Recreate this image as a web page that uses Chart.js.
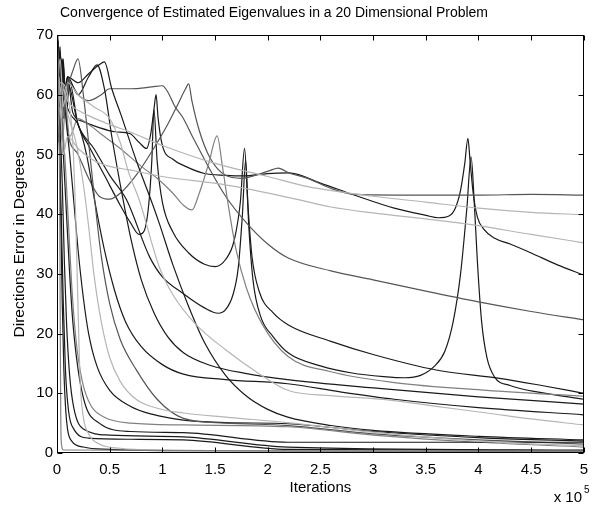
<!DOCTYPE html>
<html>
<head>
<meta charset="utf-8">
<script src="https://cdn.jsdelivr.net/npm/chart.js@4.4.1/dist/chart.umd.min.js"></script>
<style>
  html, body { margin: 0; padding: 0; background: #fff; }
</style>
</head>
<body>
<canvas id="chart" width="596" height="505"></canvas>
<script>
// iterations in units of 1e5, error in degrees
const xTicks = [0, 0.5, 1, 1.5, 2, 2.5, 3, 3.5, 4, 4.5, 5];
const yTicks = [0, 10, 20, 30, 40, 50, 60, 70];

// upper curves with spikes
const peak39a = [[0,60],[0.01,69],[0.02,62],[0.03,68],[0.045,60],[0.06,66],[0.08,58],[0.1,63],[0.15,57],[0.25,55.5],[0.4,54.5],[0.55,53.8],[0.69,53.5],[0.78,52],[0.85,51],[0.89,53.5],[0.92,57.5],[0.94,60],[0.96,56],[1.0,51.5],[1.1,49.2],[1.22,48],[1.4,46.8],[1.6,46.5],[1.77,46.4],[2.0,46.8],[2.2,46.9],[2.5,45.2],[2.82,43.2],[3.2,41],[3.5,39.8],[3.62,39.4],[3.72,39.7],[3.78,41],[3.83,44],[3.87,48.5],[3.9,52.7],[3.92,49],[3.95,43.5],[3.99,39.5],[4.05,37.5],[4.15,36],[4.3,35],[4.5,33.5],[4.75,31.5],[5,29.8]];
const peak18a = [[0,63],[0.01,52],[0.02,67],[0.04,56],[0.06,65],[0.09,57],[0.12,62],[0.2,55],[0.3,51.5],[0.45,46.5],[0.6,41.5],[0.7,38.5],[0.78,36.6],[0.83,37.3],[0.87,41.5],[0.9,49],[0.92,57.5],[0.95,49],[1.0,42],[1.1,37],[1.25,33.5],[1.4,31.6],[1.5,31.2],[1.6,32.4],[1.68,35.5],[1.74,42],[1.78,51],[1.81,42],[1.85,33],[1.92,27],[2.05,23.5],[2.2,21.4],[2.6,18.7],[3.0,16.5],[3.6,13.9],[4.2,12.5],[4.6,11.3],[5,10]];
const peak39b = [[0,59],[0.01,66],[0.03,54],[0.05,64],[0.07,56],[0.1,62],[0.2,55],[0.35,51],[0.5,46.5],[0.66,42.4],[0.88,32.8],[1.0,29.5],[1.19,26.8],[1.4,24.3],[1.53,23.4],[1.6,24],[1.67,26.5],[1.72,31],[1.76,40],[1.79,49],[1.82,38],[1.86,29],[1.93,23],[2.05,19.5],[2.2,16.7],[2.5,14.6],[2.8,13.4],[3.1,12.8],[3.3,12.6],[3.45,13],[3.58,14.5],[3.68,17],[3.76,22],[3.83,30],[3.89,41],[3.93,49.6],[3.96,42],[3.99,32],[4.03,22],[4.08,16],[4.15,12.8],[4.3,11.3],[4.6,10.1],[5,9]];
const peak12 = [[0,57],[0.02,64],[0.04,55],[0.07,60],[0.1,54],[0.2,50],[0.3,46],[0.4,43],[0.5,42.5],[0.6,43.5],[0.75,46.5],[0.9,50.5],[1.05,55],[1.15,58.5],[1.22,61],[1.25,61.8],[1.28,59],[1.35,54],[1.45,49.5],[1.6,46.5],[1.75,46],[1.9,46.6],[2.02,47.3],[2.1,47.7],[2.2,46.9],[2.38,46],[2.6,44.3],[2.82,43.3],[3.2,43.2],[4,43.2],[4.5,43.3],[5,43.2]];
const plateau = [[0,61],[0.02,55],[0.05,64],[0.08,58],[0.12,62],[0.2,60],[0.3,59],[0.42,60],[0.5,61],[0.7,61],[0.9,61.3],[1.0,61.5],[1.05,60.5],[1.12,58],[1.19,56.3],[1.3,52.5],[1.45,47.5],[1.6,43],[1.8,38.5],[2.0,35],[2.19,32.7],[2.6,30.5],[3.0,29],[3.5,27.1],[4.0,25.3],[4.5,23.7],[5,22.3]];
const peak15 = [[0,54],[0.02,62],[0.05,52],[0.08,58],[0.12,53],[0.2,56],[0.3,55],[0.45,53],[0.6,51],[0.8,48],[0.95,46],[1.1,43.5],[1.2,41.5],[1.28,40.7],[1.35,43.5],[1.44,48.5],[1.52,53.1],[1.57,48],[1.63,41],[1.7,34],[1.8,27.5],[1.95,21.5],[2.19,16.2],[2.6,13.6],[3.2,11.8],[4.08,10.5],[5,9.5]];
const slowA = [[0,55],[0.02,63],[0.04,56],[0.06,61],[0.1,59],[0.15,58],[0.3,56.5],[0.5,55],[0.69,53.8],[1.0,51.5],[1.5,48.5],[2.0,46.3],[2.38,44.6],[3.0,43],[3.5,42],[4.0,41],[4.5,40.3],[5,39.9]];
const slowB = [[0,52],[0.03,58],[0.06,50],[0.1,53],[0.2,51],[0.35,49],[0.5,48],[0.69,47.4],[1.0,46.3],[1.6,44.9],[2.3,42.4],[2.6,41.2],[3.0,40.2],[3.5,39.2],[3.95,38.2],[4.5,36.6],[5,35.2]];

// decaying curves
const decay1 = [[0,62],[0.01,69],[0.03,58],[0.05,66],[0.07,60],[0.1,63],[0.2,60],[0.3,63],[0.38,65],[0.45,61],[0.52,53],[0.6,45],[0.7,36],[0.8,29],[0.92,23.5],[1.05,19.5],[1.2,16.8],[1.45,14.7],[1.8,13.3],[2.19,12.3],[3,10.9],[4,9.4],[5,8.2]];
const decay2 = [[0,65],[0.02,58],[0.04,66],[0.07,60],[0.12,57],[0.2,55],[0.28,50],[0.36,42],[0.45,34],[0.55,27],[0.65,22],[0.8,17.8],[1.0,14.8],[1.2,13.2],[1.6,12.3],[2.19,11.6],[2.7,10.2],[3.2,9],[4,7.6],[5,6.4]];
const decay3 = [[0,60],[0.03,66],[0.06,58],[0.1,62],[0.2,60],[0.35,58],[0.5,56],[0.6,52],[0.68,47],[0.78,42.4],[0.97,31.2],[1.1,26.5],[1.32,21.5],[1.6,17.3],[1.9,13.5],[2.19,10.5],[2.6,9.6],[3.14,8.9],[3.6,7.8],[4.08,6.7],[4.5,5.7],[5,4.7]];
const decay4 = [[0,67],[0.02,60],[0.05,65],[0.08,57],[0.12,50],[0.16,42],[0.2,34],[0.25,26],[0.3,20],[0.38,14.5],[0.5,10.5],[0.7,7.8],[0.9,6.5],[1.2,5.5],[1.6,5.1],[2.19,4.9],[3,3.6],[4.08,2.5],[5,2.0]];
const decay5 = [[0,58],[0.02,66],[0.05,56],[0.08,48],[0.11,38],[0.14,28],[0.18,19],[0.24,12],[0.32,8],[0.45,6],[0.7,5],[1.2,4.7],[2.19,4.4],[3,3],[4,1.8],[5,1.0]];
const decay6 = [[0,63],[0.02,68],[0.04,57],[0.06,50],[0.09,40],[0.12,30],[0.15,22],[0.2,14],[0.27,8],[0.4,5],[0.7,3.6],[1.2,3.4],[2.19,1.8],[3,1.8],[4,1.8],[5,1.8]];
const decay7 = [[0,66],[0.02,58],[0.05,45],[0.07,32],[0.09,22],[0.12,13],[0.16,7.5],[0.25,4],[0.5,3],[1.2,2.7],[2.19,1.0],[5,0.5]];
const decay8 = [[0,64],[0.01,70],[0.02,55],[0.04,40],[0.06,25],[0.08,14],[0.11,7],[0.16,4],[0.3,2.5],[0.7,2.3],[1.2,2.2],[2.19,0.6],[5,0.4]];
const decay9 = [[0,58],[0.03,62],[0.1,60],[0.15,52],[0.18,38],[0.2,24],[0.22,12],[0.25,6],[0.3,3.2],[0.4,1.5],[0.6,0.8],[1.0,0.5],[2,0.4],[5,0.3]];
const decay10 = [[0,62],[0.01,68],[0.02,55],[0.035,40],[0.05,25],[0.065,14],[0.08,8],[0.1,4],[0.14,2],[0.25,1],[0.5,0.6],[1,0.4],[5,0.3]];
const decay11 = [[0,70],[0.015,62],[0.025,45],[0.03,25],[0.035,8],[0.04,2],[0.06,0.5],[5,0.2]];
const decay12 = [[0,56],[0.05,62],[0.1,57],[0.18,52],[0.25,45],[0.3,38],[0.35,30],[0.42,22],[0.5,16],[0.6,12],[0.75,9],[0.95,7.5],[1.2,6.7],[1.6,6],[2.19,5.1],[3,3.5],[4,2],[5,1.2]];
const decay13 = [[0,60],[0.03,67],[0.06,59],[0.1,63],[0.2,62],[0.3,63.5],[0.4,65],[0.45,65.5],[0.52,61],[0.61,56.5],[0.76,48.6],[0.9,42],[0.97,38.5],[1.1,31.5],[1.25,24.5],[1.4,18.5],[1.6,13],[1.8,9.5],[2.0,7.3],[2.19,6],[2.6,4.6],[3,3.8],[4,2.8],[5,2.2]];
const decay14 = [[0,58],[0.03,64],[0.06,56],[0.1,61],[0.15,64],[0.2,66],[0.25,60],[0.3,52],[0.36,42],[0.42,33],[0.5,25],[0.6,19],[0.75,14],[0.95,9],[1.2,5.8],[1.6,5],[2.19,4.6],[3,3.2],[4,2.2],[5,1.5]];

const K = '#1a1a1a', DG = '#555555', MG = '#808080', LG = '#b5b5b5';

const curves = [
    [decay11, MG], [decay9, LG], [decay12, LG], [decay3, LG], [slowA, LG], [slowB, LG],
    [decay10, K], [decay8, K], [decay7, K], [decay6, K], [decay5, MG], [decay14, DG],
    [decay4, K], [decay13, K], [decay2, K], [decay1, K],
    [peak15, MG], [plateau, DG], [peak12, DG],
    [peak18a, K], [peak39b, K], [peak39a, K]
];

const FONT = '"Liberation Sans", Arial, Helvetica, sans-serif';

const frame = {
    id: 'frame',
    afterDraw(chart) {
        const { ctx, chartArea: a, scales: { x, y } } = chart;
        const L = Math.round(a.left) + 0.5, R = Math.round(a.right) - 0.5;
        const T = Math.round(a.top) + 0.5, B = Math.round(a.bottom) - 0.5;
        ctx.save();
        ctx.strokeStyle = '#000';
        ctx.lineWidth = 1;
        ctx.strokeRect(L, T, R - L, B - T);
        ctx.beginPath();
        xTicks.forEach(v => {
            const px = Math.round(x.getPixelForValue(v)) + 0.5;
            ctx.moveTo(px, B); ctx.lineTo(px, B - 5);
            ctx.moveTo(px, T); ctx.lineTo(px, T + 5);
        });
        yTicks.forEach(v => {
            const py = Math.round(y.getPixelForValue(v)) + 0.5;
            ctx.moveTo(L, py); ctx.lineTo(L + 5, py);
            ctx.moveTo(R, py); ctx.lineTo(R - 5, py);
        });
        ctx.stroke();

        ctx.fillStyle = '#000';
        ctx.textAlign = 'center';
        ctx.textBaseline = 'middle';
        ctx.font = '14px ' + FONT;
        ctx.fillText('Convergence of Estimated Eigenvalues in a 20 Dimensional Problem', 274, 13);
        ctx.font = '15px ' + FONT;
        ctx.fillText('Iterations', (a.left + a.right) / 2, 488);
        ctx.textAlign = 'right';
        ctx.fillText('x 10', 582, 498);
        ctx.textAlign = 'left';
        ctx.font = '10px ' + FONT;
        ctx.fillText('5', 584, 490);
        ctx.translate(20, (a.top + a.bottom) / 2);
        ctx.rotate(-Math.PI / 2);
        ctx.textAlign = 'center';
        ctx.font = '15.5px ' + FONT;
        ctx.fillText('Directions Error in Degrees', 0, 0);
        ctx.restore();
    }
};

new Chart(document.getElementById('chart'), {
    type: 'line',
    data: {
        datasets: curves.map(([pts, color]) => ({
            data: pts.map(([x, y]) => ({ x, y })),
            borderColor: color,
            borderWidth: 1.2,
            pointRadius: 0,
            fill: false,
            cubicInterpolationMode: 'monotone'
        }))
    },
    options: {
        responsive: false,
        animation: false,
        layout: { padding: { left: 0, right: 8, top: 35, bottom: 0 } },
        plugins: { legend: { display: false }, title: { display: false }, tooltip: { enabled: false } },
        scales: {
            x: {
                type: 'linear', min: 0, max: 5,
                grid: { display: false, drawTicks: false },
                border: { display: false },
                afterBuildTicks: s => { s.ticks = xTicks.map(v => ({ value: v })); },
                ticks: { color: '#000', padding: 8, maxRotation: 0, autoSkip: false, font: { size: 15, family: FONT }, callback: v => String(v) },
                afterFit: s => { s.height = 52; }
            },
            y: {
                min: 0, max: 70,
                grid: { display: false, drawTicks: false },
                border: { display: false },
                afterBuildTicks: s => { s.ticks = yTicks.map(v => ({ value: v })); },
                ticks: { color: '#000', padding: 4, font: { size: 15, family: FONT }, callback: v => String(v) },
                afterFit: s => { s.width = 57; }
            }
        }
    },
    plugins: [frame]
});
</script>
</body>
</html>
